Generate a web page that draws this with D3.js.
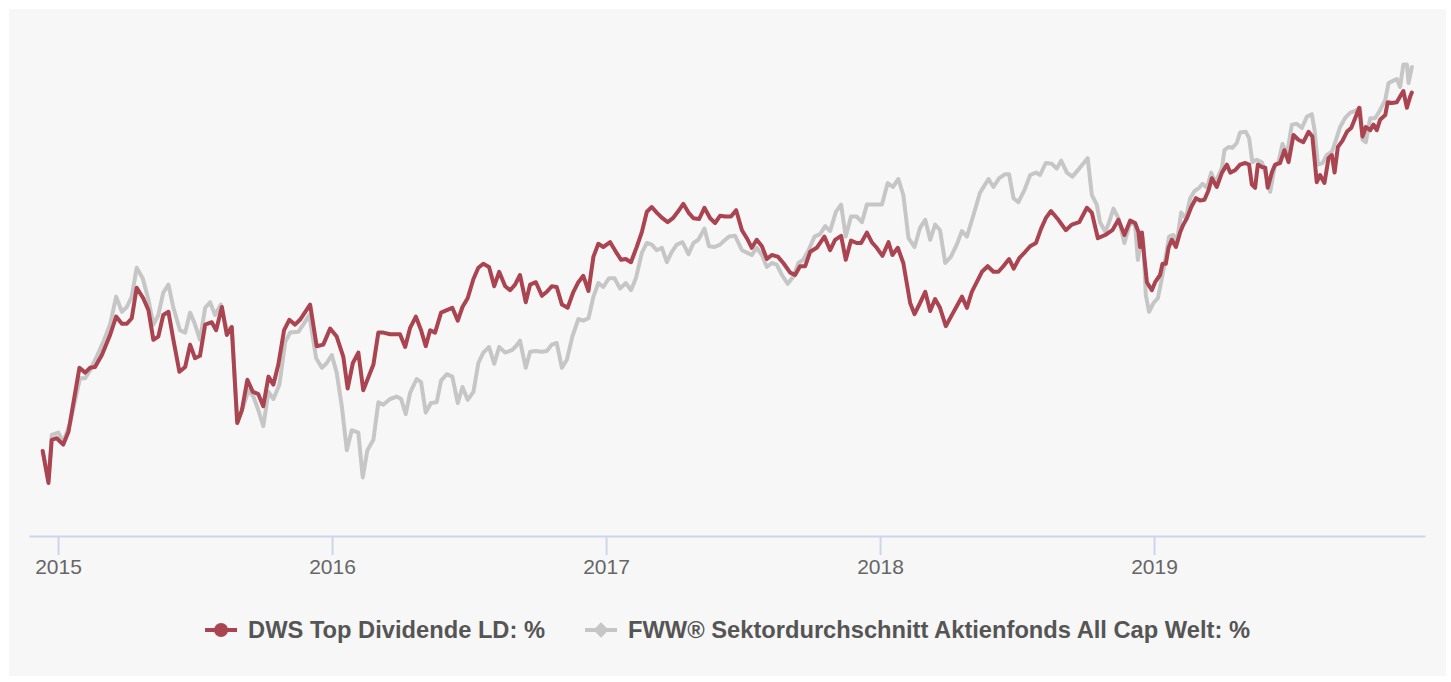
<!DOCTYPE html>
<html>
<head>
<meta charset="utf-8">
<script src="https://cdn.jsdelivr.net/npm/d3@7"></script>
<style>
    body { margin: 0; background: #fff; }
    svg { display: block; }
</style>
</head>
<body>
<svg id="chart" width="1451" height="682"></svg>
<script>
// time as decimal years, values as performance in %
var redTimes = [
    2014.944, 2014.965, 2014.977, 2014.995, 2015.019, 2015.038, 2015.078, 2015.099, 2015.117, 2015.135,
    2015.160, 2015.190, 2015.212, 2015.233, 2015.251, 2015.269, 2015.287, 2015.311, 2015.330, 2015.348,
    2015.366, 2015.384, 2015.403, 2015.421, 2015.443, 2015.464, 2015.482, 2015.500, 2015.518, 2015.537,
    2015.561, 2015.577, 2015.598, 2015.616, 2015.634, 2015.654, 2015.671, 2015.691, 2015.711, 2015.731,
    2015.749, 2015.768, 2015.786, 2015.804, 2015.825, 2015.844, 2015.865, 2015.883, 2015.920, 2015.944,
    2015.968, 2015.993, 2016.017, 2016.041, 2016.057, 2016.076, 2016.096, 2016.114, 2016.151, 2016.169,
    2016.187, 2016.212, 2016.248, 2016.267, 2016.285, 2016.306, 2016.325, 2016.342, 2016.358, 2016.376,
    2016.398, 2016.419, 2016.439, 2016.459, 2016.476, 2016.495, 2016.516, 2016.534, 2016.552, 2016.573,
    2016.592, 2016.610, 2016.632, 2016.650, 2016.668, 2016.686, 2016.707, 2016.723, 2016.744, 2016.766,
    2016.784, 2016.802, 2016.820, 2016.839, 2016.860, 2016.881, 2016.899, 2016.917, 2016.936, 2016.954,
    2016.972, 2016.990, 2017.015, 2017.036, 2017.055, 2017.072, 2017.091, 2017.112, 2017.131, 2017.149,
    2017.167, 2017.185, 2017.206, 2017.225, 2017.244, 2017.262, 2017.282, 2017.301, 2017.319, 2017.340,
    2017.359, 2017.380, 2017.398, 2017.416, 2017.435, 2017.456, 2017.475, 2017.496, 2017.514, 2017.532,
    2017.550, 2017.569, 2017.587, 2017.605, 2017.627, 2017.647, 2017.672, 2017.690, 2017.708, 2017.727,
    2017.745, 2017.769, 2017.797, 2017.818, 2017.836, 2017.858, 2017.875, 2017.894, 2017.915, 2017.931,
    2017.952, 2017.970, 2017.988, 2018.009, 2018.031, 2018.045, 2018.065, 2018.085, 2018.110, 2018.126,
    2018.146, 2018.165, 2018.183, 2018.201, 2018.219, 2018.240, 2018.259, 2018.280, 2018.299, 2018.317,
    2018.335, 2018.353, 2018.372, 2018.393, 2018.414, 2018.432, 2018.450, 2018.471, 2018.488, 2018.508,
    2018.530, 2018.548, 2018.569, 2018.588, 2018.605, 2018.624, 2018.651, 2018.678, 2018.700, 2018.727,
    2018.755, 2018.773, 2018.795, 2018.822, 2018.848, 2018.870, 2018.892, 2018.913, 2018.931, 2018.943,
    2018.949, 2018.956, 2018.961, 2018.974, 2018.992, 2019.004, 2019.022, 2019.031, 2019.043, 2019.053,
    2019.065, 2019.080, 2019.095, 2019.107, 2019.120, 2019.136, 2019.153, 2019.168, 2019.184, 2019.199,
    2019.211, 2019.229, 2019.248, 2019.266, 2019.278, 2019.296, 2019.314, 2019.333, 2019.347, 2019.357,
    2019.369, 2019.379, 2019.394, 2019.406, 2019.415, 2019.430, 2019.442, 2019.460, 2019.476, 2019.491,
    2019.509, 2019.527, 2019.545, 2019.564, 2019.578, 2019.594, 2019.606, 2019.622, 2019.637, 2019.649,
    2019.659, 2019.671, 2019.688, 2019.704, 2019.720, 2019.734, 2019.749, 2019.761, 2019.773, 2019.789,
    2019.801, 2019.813, 2019.825, 2019.844, 2019.853, 2019.868, 2019.886, 2019.898, 2019.910, 2019.923,
    2019.935, 2019.941
];
var redValues = [
    0.0, -4.0, 1.4, 1.6, 0.8, 2.4, 10.4, 9.8, 10.4, 10.5,
    12.0, 14.5, 16.8, 15.9, 15.9, 16.6, 20.4, 19.1, 17.6, 13.9,
    14.3, 17.0, 17.4, 13.9, 9.9, 10.5, 13.3, 11.6, 11.9, 15.8,
    16.1, 15.1, 18.0, 14.5, 15.5, 3.5, 5.1, 8.9, 7.4, 7.1,
    5.6, 9.3, 8.3, 10.8, 15.1, 16.4, 15.8, 16.4, 18.3, 13.1,
    13.3, 15.3, 14.3, 11.8, 7.8, 11.0, 12.3, 7.6, 10.8, 14.8,
    14.8, 14.6, 14.6, 13.0, 15.4, 16.8, 15.1, 13.1, 15.1, 14.8,
    17.3, 17.6, 17.9, 16.3, 18.0, 19.1, 21.5, 22.9, 23.4, 23.0,
    20.6, 22.4, 20.6, 20.1, 20.8, 22.0, 18.6, 20.8, 21.1, 19.4,
    19.9, 20.6, 20.5, 18.3, 17.9, 19.9, 21.1, 21.9, 20.0, 24.3,
    25.9, 25.5, 26.1, 24.9, 23.9, 24.0, 23.6, 25.5, 27.4, 29.9,
    30.5, 29.8, 29.1, 28.6, 29.1, 29.9, 30.9, 29.8, 29.1, 29.0,
    30.4, 29.1, 28.5, 29.4, 29.3, 29.3, 30.1, 27.6, 26.6, 25.4,
    26.4, 25.6, 24.0, 24.5, 24.3, 23.5, 22.3, 22.0, 23.1, 23.1,
    24.9, 25.4, 26.8, 25.1, 26.4, 26.9, 23.9, 26.3, 26.0, 26.0,
    27.3, 26.1, 25.4, 24.4, 26.1, 24.5, 25.4, 23.5, 18.5, 17.1,
    18.5, 19.9, 17.5, 19.0, 17.9, 15.6, 16.8, 18.1, 19.3, 17.9,
    19.9, 21.1, 22.4, 23.1, 22.4, 22.4, 23.1, 24.0, 22.8, 24.1,
    24.9, 25.6, 26.0, 27.8, 29.1, 30.0, 28.9, 27.6, 28.3, 28.6,
    30.4, 29.8, 26.6, 27.0, 27.6, 28.9, 27.0, 28.8, 28.5, 27.4,
    25.5, 27.3, 25.4, 21.1, 20.1, 21.1, 22.0, 23.4, 23.4, 25.4,
    26.4, 25.5, 27.3, 28.3, 29.1, 30.5, 31.6, 31.3, 31.4, 32.6,
    34.1, 33.0, 34.8, 35.8, 34.8, 35.1, 35.8, 36.0, 35.8, 33.3,
    32.9, 35.8, 35.5, 35.4, 32.9, 34.8, 35.8, 36.0, 37.6, 36.1,
    39.5, 38.9, 38.6, 39.9, 39.3, 33.6, 34.5, 33.5, 36.6, 37.0,
    34.8, 38.0, 38.8, 39.9, 40.4, 41.6, 42.9, 39.3, 40.5, 40.1,
    40.8, 40.1, 41.4, 42.0, 43.6, 43.5, 43.6, 44.3, 45.0, 42.9,
    44.3, 44.8
];
var grayTimes = [
    2014.944, 2014.965, 2014.977, 2015.001, 2015.019, 2015.044, 2015.080, 2015.099, 2015.117, 2015.141,
    2015.165, 2015.190, 2015.212, 2015.233, 2015.251, 2015.269, 2015.287, 2015.309, 2015.330, 2015.348,
    2015.366, 2015.384, 2015.403, 2015.421, 2015.445, 2015.464, 2015.482, 2015.500, 2015.518, 2015.537,
    2015.555, 2015.573, 2015.594, 2015.616, 2015.634, 2015.654, 2015.676, 2015.695, 2015.713, 2015.731,
    2015.749, 2015.768, 2015.786, 2015.808, 2015.829, 2015.847, 2015.877, 2015.895, 2015.917, 2015.942,
    2015.963, 2015.981, 2015.999, 2016.017, 2016.036, 2016.054, 2016.072, 2016.096, 2016.112, 2016.129,
    2016.151, 2016.169, 2016.187, 2016.212, 2016.236, 2016.252, 2016.269, 2016.285, 2016.309, 2016.325,
    2016.342, 2016.361, 2016.382, 2016.398, 2016.419, 2016.439, 2016.459, 2016.476, 2016.495, 2016.516,
    2016.534, 2016.552, 2016.573, 2016.592, 2016.610, 2016.632, 2016.656, 2016.671, 2016.686, 2016.707,
    2016.723, 2016.744, 2016.766, 2016.784, 2016.802, 2016.820, 2016.839, 2016.857, 2016.877, 2016.899,
    2016.917, 2016.936, 2016.954, 2016.972, 2016.990, 2017.011, 2017.031, 2017.051, 2017.072, 2017.091,
    2017.109, 2017.131, 2017.149, 2017.167, 2017.185, 2017.204, 2017.222, 2017.240, 2017.258, 2017.279,
    2017.301, 2017.319, 2017.337, 2017.359, 2017.376, 2017.396, 2017.416, 2017.435, 2017.449, 2017.471,
    2017.496, 2017.514, 2017.532, 2017.550, 2017.569, 2017.587, 2017.605, 2017.623, 2017.642, 2017.663,
    2017.684, 2017.702, 2017.720, 2017.739, 2017.761, 2017.781, 2017.800, 2017.818, 2017.839, 2017.858,
    2017.875, 2017.894, 2017.915, 2017.934, 2017.952, 2017.976, 2018.007, 2018.028, 2018.047, 2018.067,
    2018.085, 2018.104, 2018.126, 2018.146, 2018.165, 2018.183, 2018.201, 2018.219, 2018.238, 2018.259,
    2018.280, 2018.299, 2018.317, 2018.341, 2018.365, 2018.396, 2018.414, 2018.435, 2018.457, 2018.471,
    2018.487, 2018.505, 2018.527, 2018.548, 2018.569, 2018.584, 2018.605, 2018.627, 2018.645, 2018.661,
    2018.682, 2018.702, 2018.727, 2018.758, 2018.773, 2018.791, 2018.803, 2018.822, 2018.836, 2018.852,
    2018.870, 2018.892, 2018.913, 2018.931, 2018.941, 2018.956, 2018.961, 2018.970, 2018.982, 2018.998,
    2019.014, 2019.026, 2019.038, 2019.055, 2019.071, 2019.083, 2019.099, 2019.116, 2019.132, 2019.148,
    2019.165, 2019.177, 2019.193, 2019.209, 2019.223, 2019.248, 2019.257, 2019.272, 2019.286, 2019.302,
    2019.314, 2019.335, 2019.347, 2019.359, 2019.375, 2019.394, 2019.408, 2019.424, 2019.440, 2019.454,
    2019.469, 2019.485, 2019.503, 2019.521, 2019.540, 2019.558, 2019.576, 2019.586, 2019.598, 2019.615,
    2019.631, 2019.649, 2019.664, 2019.679, 2019.697, 2019.716, 2019.734, 2019.752, 2019.761, 2019.773,
    2019.789, 2019.807, 2019.825, 2019.844, 2019.856, 2019.874, 2019.886, 2019.898, 2019.910, 2019.923,
    2019.929, 2019.941
];
var grayValues = [
    0.0, -3.6, 2.0, 2.3, 1.1, 3.5, 9.1, 9.1, 10.1, 11.8,
    13.6, 15.8, 19.3, 17.4, 18.0, 19.3, 22.9, 21.6, 18.9, 15.8,
    17.0, 19.8, 20.8, 17.9, 15.1, 14.8, 17.3, 15.8, 13.9, 17.9,
    18.6, 17.0, 18.3, 15.1, 15.5, 3.6, 5.5, 7.6, 6.8, 5.1,
    3.1, 7.4, 6.5, 8.3, 13.6, 14.8, 14.9, 15.8, 17.0, 11.6,
    10.4, 11.0, 12.0, 9.8, 5.5, 0.1, 2.6, 2.3, -3.3, 0.1,
    1.4, 6.1, 5.8, 6.5, 6.8, 6.5, 4.6, 7.3, 9.0, 8.6,
    4.8, 6.0, 6.1, 8.8, 9.6, 9.3, 6.0, 8.0, 6.4, 7.4,
    11.0, 12.3, 13.0, 10.9, 13.0, 12.3, 12.6, 13.1, 13.8, 10.4,
    12.4, 12.5, 12.4, 12.5, 13.3, 13.5, 10.4, 11.4, 14.3, 16.5,
    16.3, 16.6, 19.3, 21.0, 20.5, 21.6, 21.6, 20.3, 21.0, 20.1,
    21.6, 24.8, 26.0, 25.8, 25.1, 25.4, 23.6, 24.9, 25.8, 26.1,
    24.6, 26.0, 26.4, 27.8, 25.6, 25.5, 25.8, 26.4, 26.8, 26.9,
    25.1, 24.8, 24.5, 25.4, 24.5, 23.0, 23.5, 23.3, 22.0, 20.9,
    21.8, 23.5, 23.9, 25.1, 26.8, 27.1, 28.1, 27.5, 29.9, 30.8,
    26.8, 29.3, 29.3, 28.6, 30.8, 30.8, 30.8, 33.5, 33.0, 34.0,
    32.0, 26.6, 25.5, 27.9, 28.9, 26.4, 28.3, 27.6, 23.5, 24.3,
    25.8, 27.5, 26.8, 29.5, 32.3, 34.0, 33.0, 34.1, 34.6, 34.6,
    31.6, 31.1, 32.6, 34.5, 34.8, 34.5, 36.0, 35.9, 35.3, 36.3,
    34.8, 34.3, 35.3, 36.6, 32.0, 30.8, 28.6, 27.4, 28.6, 30.3,
    29.1, 26.0, 28.6, 28.3, 23.9, 27.0, 26.1, 19.5, 17.4, 18.5,
    19.1, 21.1, 23.3, 26.8, 27.0, 26.0, 29.8, 29.1, 31.6, 32.5,
    32.9, 33.4, 32.9, 34.8, 33.5, 35.4, 37.6, 38.0, 37.9, 38.5,
    39.8, 39.9, 39.1, 36.1, 36.4, 36.1, 34.5, 32.4, 35.5, 36.1,
    38.4, 37.0, 40.8, 40.9, 40.4, 41.8, 42.1, 40.1, 35.8, 36.0,
    37.0, 37.4, 38.9, 40.5, 41.6, 42.3, 42.5, 42.9, 38.9, 38.6,
    41.6, 41.6, 42.6, 43.9, 46.0, 46.3, 46.5, 45.5, 48.3, 48.3,
    46.0, 48.0
];
var yearTicks = [2015, 2016, 2017, 2018, 2019];
var seriesNames = [
    "DWS Top Dividende LD: %",
    "FWW\u00ae Sektordurchschnitt Aktienfonds All Cap Welt: %"
];
var seriesColors = ["#aa4450", "#c6c6c6"];

function drawChart() {
    var svg = d3.select("svg#chart");

    svg.append("rect")
        .attr("x", 9)
        .attr("y", 9)
        .attr("width", 1437)
        .attr("height", 667)
        .attr("fill", "#f7f7f7");

    var axisY = 536;
    var x = d3.scaleLinear().domain([2014.894, 2019.989]).range([29, 1425]);
    var y = d3.scaleLinear().domain([-10, 50]).range([531, 51]);

    // x axis, highcharts style
    var xAxis = svg.append("g")
        .attr("class", "axis")
        .attr("transform", "translate(0," + axisY + ")")
        .call(d3.axisBottom(x)
            .tickValues(yearTicks)
            .tickFormat(d3.format("d"))
            .tickSize(19)
            .tickSizeOuter(0)
            .tickPadding(4));
    xAxis.select(".domain")
        .attr("stroke", "#ccd6eb")
        .attr("stroke-width", 2);
    xAxis.selectAll(".tick line")
        .attr("stroke", "#ccd6eb")
        .attr("stroke-width", 2);
    xAxis.selectAll(".tick text")
        .attr("fill", "#666666")
        .attr("font-family", "Liberation Sans, Arial, sans-serif")
        .attr("font-size", "21px");

    var line = d3.line()
        .x(d => x(d.t))
        .y(d => y(d.v))
        .curve(d3.curveLinear);

    var grayData = grayTimes.map((t, i) => ({ t: t, v: grayValues[i] }));
    var redData = redTimes.map((t, i) => ({ t: t, v: redValues[i] }));

    svg.append("path")
        .datum(grayData)
        .attr("fill", "none")
        .attr("stroke", seriesColors[1])
        .attr("stroke-width", 4)
        .attr("stroke-linejoin", "round")
        .attr("stroke-linecap", "round")
        .attr("d", line);

    svg.append("path")
        .datum(redData)
        .attr("fill", "none")
        .attr("stroke", seriesColors[0])
        .attr("stroke-width", 4)
        .attr("stroke-linejoin", "round")
        .attr("stroke-linecap", "round")
        .attr("d", line);

    // legend
    var legend = svg.append("g").attr("class", "legend");
    var legendY = 630;
    var cursor = 0;
    seriesNames.forEach(function(name, i) {
        var item = legend.append("g").attr("transform", "translate(" + cursor + ",0)");
        item.append("line")
            .attr("x1", 0)
            .attr("x2", 32)
            .attr("y1", legendY)
            .attr("y2", legendY)
            .attr("stroke", seriesColors[i])
            .attr("stroke-width", 4);
        if (i === 0) {
            item.append("circle")
                .attr("cx", 16)
                .attr("cy", legendY)
                .attr("r", 7)
                .attr("fill", seriesColors[i]);
        } else {
            item.append("path")
                .attr("d", d3.symbol().type(d3.symbolDiamond2).size(150))
                .attr("transform", "translate(16," + legendY + ")")
                .attr("fill", seriesColors[i]);
        }
        var txt = item.append("text")
            .attr("x", 43)
            .attr("y", legendY + 8)
            .attr("fill", "#555555")
            .attr("font-family", "Liberation Sans, Arial, sans-serif")
            .attr("font-weight", "bold")
            .attr("font-size", "23.7px")
            .text(name);
        cursor += 43 + txt.node().getComputedTextLength() + 40;
    });
    var total = cursor - 40;
    legend.attr("transform", "translate(" + (727.5 - total / 2) + ",0)");
}

drawChart();
</script>
</body>
</html>
